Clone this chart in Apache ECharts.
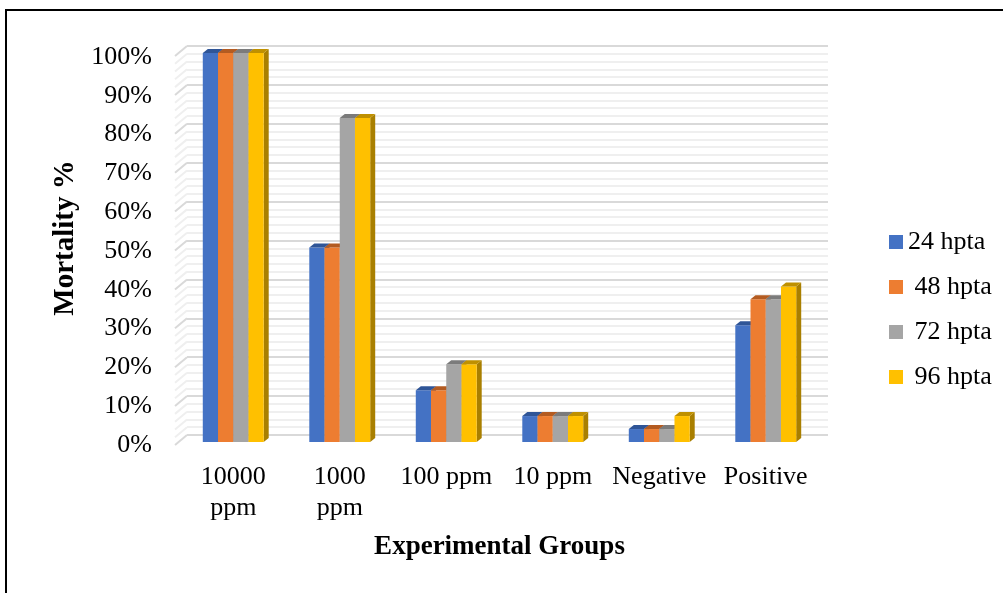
<!DOCTYPE html>
<html>
<head>
<meta charset="utf-8">
<script src="https://cdn.jsdelivr.net/npm/echarts@6/dist/echarts.min.js"></script>
<style>
  html, body { margin: 0; padding: 0; background: #fff; }
  #chart { width: 1003px; height: 593px; }
</style>
</head>
<body>
<div id="chart"></div>
<script>
// 数据
var categories = ['10000\nppm', '1000\nppm', '100 ppm', '10 ppm', 'Negative', 'Positive'];
var seriesNames = ['24 hpta', ' 48 hpta', ' 72 hpta', ' 96 hpta'];
var h24 = [100, 50, 13.3, 6.67, 3.33, 30];
var h48 = [100, 50, 13.3, 6.67, 3.33, 36.67];
var h72 = [100, 83.3, 20, 6.67, 3.33, 36.67];
var h96 = [100, 83.3, 20, 6.67, 6.67, 40];
var yTicks = [0, 10, 20, 30, 40, 50, 60, 70, 80, 90, 100];

var frontColors = ['#4472C4', '#ED7D31', '#A5A5A5', '#FFC000'];
var topColors = ['#2f5597', '#b35b21', '#7b7b7b', '#bf9000'];
var sideColors = ['#2e5290', '#a85620', '#747474', '#a97f00'];

var font = '"Liberation Serif", "DejaVu Serif", serif';

/* 画一根带顶面和侧面的柱子 */
function makeBar(sIdx) {
    return function(params, api) {
        var cat = api.value(0);
        var v = api.value(1);
        var top = api.coord([cat, v]);
        var base = api.coord([cat, 0]);
        var bw = api.size([1, 0])[0] * 0.143;
        var x0 = top[0] - 2 * bw + sIdx * bw;
        var y0 = top[1], y1 = base[1];
        var dx = 5, dy = 4;
        return {
            type: 'group',
            children: [
                {
                    type: 'polygon',
                    shape: { points: [[x0 + bw, y0], [x0 + bw + dx, y0 - dy], [x0 + bw + dx, y1 - dy], [x0 + bw, y1]] },
                    style: { fill: sideColors[sIdx] }
                },
                {
                    type: 'rect',
                    shape: { x: x0, y: y0, width: bw, height: y1 - y0 },
                    style: { fill: frontColors[sIdx] }
                },
                {
                    type: 'polygon',
                    shape: { points: [[x0, y0], [x0 + dx, y0 - dy], [x0 + bw + dx, y0 - dy], [x0 + bw, y0]] },
                    style: { fill: topColors[sIdx] }
                }
            ]
        };
    };
}

/* 左侧墙的斜线 */
function sideWall(params, api) {
    var lines = [];
    for (var v = 0; v <= 100; v += 2) {
        var p = api.coord([0, v]);
        var major = v % 10 === 0;
        lines.push({
            type: 'line',
            shape: { x1: p[0] - 12, y1: p[1] + 10, x2: p[0], y2: p[1] },
            style: { stroke: major ? '#d9d9d9' : '#efefef', lineWidth: 2 }
        });
    }
    return { type: 'group', children: lines };
}

var allValues = [h24, h48, h72, h96];
var series = [{
    type: 'custom',
    xAxisIndex: 0,
    yAxisIndex: 0,
    renderItem: sideWall,
    data: [[0, 0]],
    silent: true
}];
for (var i = 0; i < 4; i++) {
    series.push({
        name: seriesNames[i],
        type: 'custom',
        xAxisIndex: 1,
        yAxisIndex: 1,
        itemStyle: { color: frontColors[i] },
        renderItem: makeBar(i),
        encode: { x: 0, y: 1 },
        data: allValues[i].map(function(v, k) { return [k, v]; })
    });
}

var myChart = echarts.init(document.getElementById('chart'));

var options = {
    backgroundColor: '#fff',
    animation: false,
    graphic: [{
        type: 'rect',
        shape: { x: 6, y: 10, width: 1100, height: 700 },
        style: { fill: 'none', stroke: '#000', lineWidth: 2 }
    }],
    legend: {
        orient: 'vertical',
        left: 884,
        top: 224,
        itemWidth: 14,
        itemHeight: 14,
        itemGap: 19,
        icon: 'rect',
        textStyle: { fontFamily: font, fontSize: 26, color: '#000' },
        data: seriesNames
    },
    grid: [
        // 背景墙
        { left: 187, right: 175, top: 46, bottom: 158 },
        // 柱子
        { left: 180, right: 184, top: 53, bottom: 151 },
        // 刻度标签
        { left: 175, right: 175, top: 57, bottom: 148 }
    ],
    xAxis: [
        { gridIndex: 0, type: 'value', min: 0, max: 1, show: false },
        {
            gridIndex: 1,
            type: 'category',
            data: categories,
            axisLine: { show: false },
            axisTick: { show: false },
            axisLabel: { margin: 20, fontFamily: font, fontSize: 26, color: '#000', lineHeight: 31, interval: 0 },
            name: 'Experimental Groups',
            nameLocation: 'middle',
            nameGap: 92,
            nameTextStyle: { fontFamily: font, fontSize: 27, fontWeight: 'bold', color: '#000' }
        },
        { gridIndex: 2, type: 'value', min: 0, max: 1, show: false }
    ],
    yAxis: [
        {
            gridIndex: 0,
            type: 'value',
            min: 0,
            max: 100,
            interval: 10,
            axisLine: { show: false },
            axisTick: { show: false },
            axisLabel: { show: false },
            splitLine: { lineStyle: { color: '#d9d9d9', width: 2 } },
            minorTick: { show: false, splitNumber: 5 },
            minorSplitLine: { show: true, lineStyle: { color: '#efefef', width: 2 } }
        },
        { gridIndex: 1, type: 'value', min: 0, max: 100, show: false },
        {
            gridIndex: 2,
            type: 'value',
            min: 0,
            max: 100,
            interval: 10,
            axisLine: { show: false },
            axisTick: { show: false },
            splitLine: { show: false },
            axisLabel: {
                margin: 23,
                fontFamily: font,
                fontSize: 26,
                color: '#000',
                formatter: function(v) { return yTicks.indexOf(v) >= 0 ? v + '%' : ''; }
            },
            name: 'Mortality %',
            nameLocation: 'middle',
            nameGap: 93,
            nameRotate: 90,
            nameTextStyle: { fontFamily: font, fontSize: 29, fontWeight: 'bold', color: '#000', padding: [0, 0, 0, 26] }
        }
    ],
    series: series
};

myChart.setOption(options);
</script>
</body>
</html>
